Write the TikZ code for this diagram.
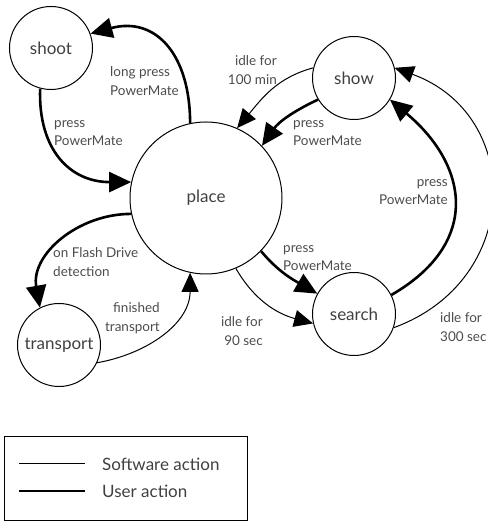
\documentclass[tikz,border=0pt]{standalone}
\usepackage{fontspec}
\setmainfont{Lato}
\usetikzlibrary{arrows.meta}
\begin{document}
\begin{tikzpicture}[x=1pt,y=1pt,
  state/.style={circle,draw,line width=1pt,minimum size=83pt,inner sep=0pt,font=\fontsize{17}{20}\selectfont,text=black!75},
  lbl/.style={inner sep=0pt,font=\fontsize{13.5}{18.5}\selectfont,text=black!70},
  legtxt/.style={inner sep=0pt,anchor=west,font=\fontsize{17}{20}\selectfont,text=black!75},
  sw/.style={line width=1pt,-{Triangle[length=19pt,width=17pt]}},
  usr/.style={line width=2.6pt,-{Triangle[length=22pt,width=20pt]}}]
\useasboundingbox (0,0) rectangle (487,524);
% states
\node[state] (shoot) at (51,476) {shoot};
\node[state,minimum size=152pt] (place) at (206,326) {place};
\node[state] (show) at (354,446) {show};
\node[state] (search) at (354,210) {search};
\node[state] (transport) at (59,179) {transport};
% edges
\draw[usr] (place.102) to[out=90,in=15,looseness=1.3] (shoot.20);
\draw[usr] (shoot.255) to[out=268,in=180,looseness=1.2] (place.168);
\draw[usr] (place.192) to[out=180,in=100,looseness=1.05] (transport.117);
\draw[sw] (transport.335) to[out=10,in=270] (place.258);
\draw[sw] (show.166) to[out=195,in=50] (place.66);
\draw[usr] (show.211) to[out=205,in=55] (place.43);
\draw[usr] (search.27) to[out=30,in=-40,looseness=1.35] (show.329);
\draw[sw] (search.341) to[out=20,in=-20,looseness=1.35] (show.14);
\draw[usr] (place.316) to[out=-50,in=150] (search.151);
\draw[sw] (place.293) to[out=-60,in=165] (search.193);
% labels
\node[lbl,anchor=west,align=left] (l1) at (110,443) {long press\\PowerMate};
\node[lbl,anchor=west,align=left] (l2) at (54,391) {press\\PowerMate};
\node[lbl,anchor=east,align=right] (l3) at (277,454) {idle for\\100 min};
\node[lbl,anchor=west,align=left] (l4) at (293,391) {press\\PowerMate};
\node[lbl,anchor=east,align=right] (l5) at (448,332) {press\\PowerMate};
\node[lbl,anchor=west,align=left] (l6) at (283,266) {press\\PowerMate};
\node[lbl,anchor=west,align=left] (l7) at (53,262) {on Flash Drive\\detection};
\node[lbl,anchor=east,align=right] (l8) at (160,206) {finished\\transport};
\node[lbl,anchor=east,align=right] (l9) at (263,193) {idle for\\90 sec};
\node[lbl,anchor=west,align=left] (l10) at (440,197) {idle for\\300 sec};
% legend
\draw[line width=1pt] (4,3) rectangle (247,87);
\coordinate (sa) at (19,60);
\coordinate (sb) at (85,60);
\coordinate (ua) at (19,33);
\coordinate (ub) at (85,33);
\draw[line width=1pt] (sa) -- (sb);
\draw[line width=2.6pt] (ua) -- (ub);
\node[legtxt] (st) at (102,60) {Software action};
\node[legtxt] (ut) at (102,33) {User action};
\end{tikzpicture}
\end{document}
